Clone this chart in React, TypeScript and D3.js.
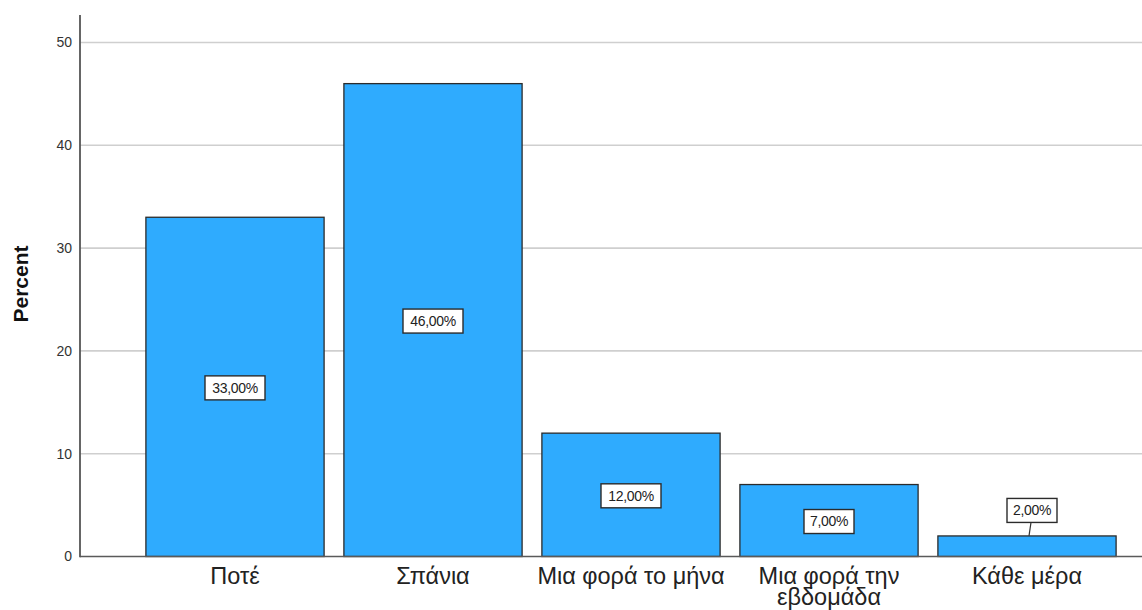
import React from "react";
import * as d3 from "d3";

const categories: string[][] = [
  ["Ποτέ"],
  ["Σπάνια"],
  ["Μια φορά το μήνα"],
  ["Μια φορά την", "εβδομάδα"],
  ["Κάθε μέρα"],
];
const percents: number[] = [33, 46, 12, 7, 2];
const yTicks: number[] = [0, 10, 20, 30, 40, 50];

const W = 1142;
const H = 610;

export default function App() {
  const x = d3
    .scaleBand<number>()
    .domain(d3.range(percents.length))
    .range([136, 1126])
    .paddingInner(0.1)
    .paddingOuter(0.05);
  const y = d3.scaleLinear().domain([0, 50]).range([556.5, 42.5]);
  const axisX = 80;
  const fmt = (v: number) => v.toFixed(2).replace(".", ",") + "%";

  return (
    <svg
      width={W}
      height={H}
      style={{ position: "absolute", left: 0, top: 0, background: "#fff" }}
      fontFamily="Arial, 'Liberation Sans', sans-serif"
    >
      {/* horizontal gridlines */}
      {yTicks.slice(1).map((t) => (
        <line
          key={"g" + t}
          x1={axisX}
          x2={W}
          y1={y(t)}
          y2={y(t)}
          stroke="#cfcfcf"
          strokeWidth={1.6}
        />
      ))}
      {/* bars */}
      {percents.map((v, i) => (
        <rect
          key={"b" + i}
          x={x(i)!}
          y={y(v)}
          width={x.bandwidth()}
          height={y(0) - y(v)}
          fill="#2fabfe"
          stroke="#2b2b2b"
          strokeWidth={1.3}
        />
      ))}
      {/* baseline and y axis */}
      <line x1={axisX} x2={W} y1={y(0)} y2={y(0)} stroke="#5a5a5a" strokeWidth={1.6} />
      <line x1={axisX} x2={axisX} y1={15} y2={y(0) + 0.8} stroke="#555" strokeWidth={1.8} />
      {/* y tick labels */}
      {yTicks.map((t) => (
        <text
          key={"t" + t}
          x={72}
          y={y(t)}
          dy="0.35em"
          textAnchor="end"
          fontSize={14}
          fill="#333"
        >
          {t}
        </text>
      ))}
      <text
        transform={`translate(28,${284}) rotate(-90)`}
        textAnchor="middle"
        fontSize={21}
        fontWeight="bold"
        fill="#111"
      >
        Percent
      </text>
      {/* category labels */}
      {categories.map((lines, i) => (
        <text
          key={"c" + i}
          x={x(i)! + x.bandwidth() / 2}
          y={584}
          textAnchor="middle"
          fontSize={23.5}
          fill="#222"
        >
          {lines.map((l, j) => (
            <tspan key={j} x={x(i)! + x.bandwidth() / 2} dy={j === 0 ? 0 : 20.5}>
              {l}
            </tspan>
          ))}
        </text>
      ))}
      {/* value labels */}
      {percents.map((v, i) => {
        const cx = x(i)! + x.bandwidth() / 2;
        const inside = y(0) - y(v) > 40;
        const label = fmt(v);
        const bw = label.length * 10;
        const bh = 24;
        const cy = inside ? (y(v) + y(0)) / 2 + 1 : y(v) - 25.5;
        const bx = inside ? cx - bw / 2 : cx - 20;
        return (
          <g key={"l" + i}>
            {!inside && (
              <line
                x1={bx + bw / 2 - 1}
                y1={cy + bh / 2}
                x2={bx + bw / 2 - 3}
                y2={y(v)}
                stroke="#333"
                strokeWidth={1.2}
              />
            )}
            <rect
              x={bx}
              y={cy - bh / 2}
              width={bw}
              height={bh}
              fill="#fff"
              stroke="#2b2b2b"
              strokeWidth={1.4}
            />
            <text
              x={bx + bw / 2}
              y={cy}
              dy="0.35em"
              textAnchor="middle"
              fontSize={14}
              letterSpacing={-0.3}
              fill="#222"
            >
              {label}
            </text>
          </g>
        );
      })}
    </svg>
  );
}
